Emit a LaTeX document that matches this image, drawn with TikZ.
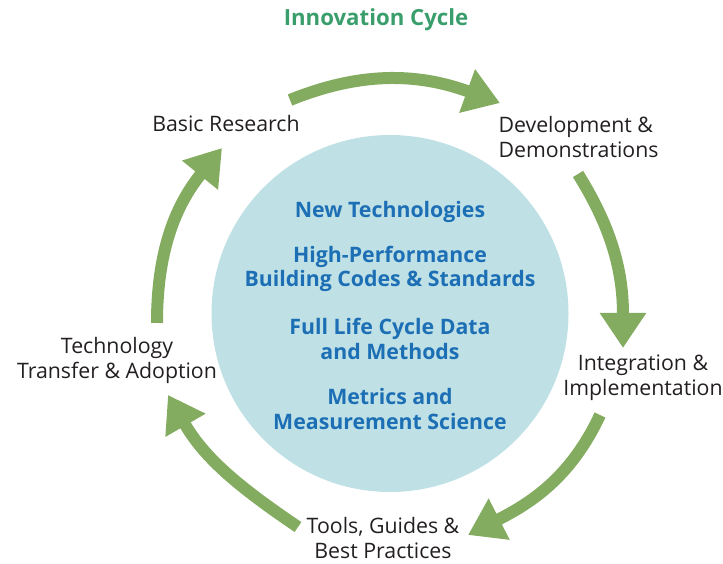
\documentclass[tikz,border=0pt]{standalone}
\usepackage{fontspec}
\setmainfont{Open Sans}
\usetikzlibrary{arrows.meta}
\definecolor{cyclegreen}{HTML}{84AC60}
\definecolor{titlegreen}{HTML}{3A9E6C}
\definecolor{corefill}{HTML}{BFE1E5}
\definecolor{coreblue}{HTML}{1D6FB5}
\definecolor{labelgray}{HTML}{231F20}
\tikzset{
  stage/.style={align=center, text=labelgray, font=\fontsize{21.3}{25}\selectfont},
  focus/.style={align=center, text=coreblue, font=\bfseries\fontsize{21.3}{24.5}\selectfont},
  cycle/.style={cyclegreen, line width=12pt, -{Triangle[length=35pt,width=44pt]}}
}
\begin{document}
\begin{tikzpicture}[x=1pt, y=1pt]
\useasboundingbox (0,0) rectangle (723,564);
\node (title) [font=\bfseries\fontsize{22.2}{24}\selectfont, text=titlegreen] at (376,544) {Innovation Cycle};
\node (core) [circle, fill=corefill, minimum size=357pt] at (390,250.5) {};
% focus areas inside the circle
\node (tech) [focus] at (390,352) {New Technologies};
\node (codes) [focus] at (390,295) {High-Performance\\Building Codes \& Standards};
\node (data) [focus] at (390,225) {Full Life Cycle Data\\and Methods};
\node (metrics) [focus] at (390,155) {Metrics and\\Measurement Science};
% stages of the cycle
\node (basic) [stage] at (226,440) {Basic Research};
\node (dev) [stage, align=left, anchor=west] at (495,427) {Development \&\\Demonstrations};
\node (integ) [stage] at (643,186) {Integration \&\\Implementation};
\node (tools) [stage, inner sep=1pt] at (383,26) {Tools, Guides \&\\Best Practices};
\node (transfer) [stage] at (117,204) {Technology\\Transfer \& Adoption};
% arrow ends
\coordinate (a1) at (290,464); \coordinate (b1) at (500,461);
\coordinate (a2) at (578,390); \coordinate (b2) at (623,216);
\coordinate (a3) at (600,149); \coordinate (b3) at (468,29);
\coordinate (a4) at (298,37);  \coordinate (b4) at (168,169);
\coordinate (a5) at (157,241); \coordinate (b5) at (222,416);
\draw[cycle] (a1) to[out=22, in=160] (b1);
\draw[cycle] (a2) to[out=-58, in=90] (b2);
\draw[cycle] (a3) to[out=-115, in=27] (b3);
\draw[cycle] (a4) to[out=146, in=300] (b4);
\draw[cycle] (a5) to[out=90, in=231] (b5);
\end{tikzpicture}
\end{document}
